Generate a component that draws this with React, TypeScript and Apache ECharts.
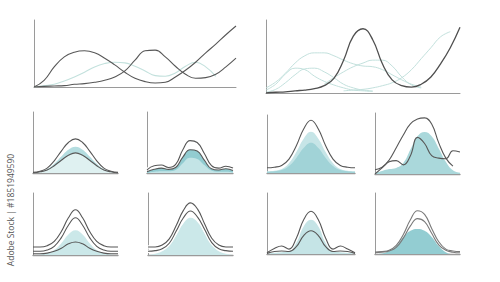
import React, { useEffect, useRef } from "react";
import * as echarts from "echarts";

// categories (hidden ticks)
const xBig = ["0","1","2","3","4","5","6","7","8","9","10","11","12","13","14","15","16","17","18","19","20"];
const xSmall = ["0","1","2","3","4","5","6","7","8","9","10","11","12"];

// Panel A (top-left)
const aDark1 = [0, 10, 30, 45, 52, 54, 51, 43, 33, 22, 13, 8, 6, 7, 15, 25, 37, 51, 64, 78, 91];
const aDark2 = [0, 1, 1.5, 2, 4, 5, 7, 10, 15, 24, 40, 54, 55, 45, 31, 19, 13, 14, 19, 30, 43];
const aLight = [0, 2, 4, 9, 15, 22, 30, 35, 37, 36, 31, 24, 17, 16, 21, 31, 37, 30, 16, null, null];

// Panel B (top-right)
const bDark = [0, 1, 1.5, 3, 4, 6, 10, 20, 45, 78, 88, 73, 40, 18, 10, 8, 12, 22, 40, 62, 90];
const bLight1 = [7, 15, 27, 41, 51, 55, 55, 51, 45, 40, 37, 36, 32, 25, 18, 12, 8, null, null, null, null];
const bLight2 = [4, 12, 26, 34, 32, 23, 16, 11, 7, 4, 3, 2, null, null, null, null, null, null, null, null, null];
const bLight3 = [1, 5, 14, 25, 33, 34, 29, 21, 12, 7, 4, 3, null, null, null, null, null, null, null, null, null];
const bLight4 = [null, null, null, null, null, null, 12, 21, 29, 36, 41, 45, 45, 37, 22, 11, 7, null, null, null, null];
const bLight5 = [null, null, null, null, null, null, null, null, 3, 4, 5, 7, 10, 14, 21, 32, 47, 62, 77, 84, null];

// Panel C
const cOuter = [1, 3, 8, 20, 36, 50, 56, 50, 36, 20, 8, 3, 1];
const cInner = [0, 2, 5, 12, 21, 29, 33, 29, 21, 12, 5, 2, 0];
const cFill = [0, 2, 6, 15, 27, 38, 43, 38, 27, 15, 6, 2, 0];

// Panel D
const dOuter = [5, 12, 13, 9, 14, 38, 53, 50, 32, 12, 8, 11, 8];
const dInner = [2, 6, 8, 6, 9, 26, 38, 36, 21, 7, 5, 7, 4];
const dLight = [0, 2, 3, 3, 5, 16, 25, 23, 13, 4, 2, 2, 1];

// Panel E
const eOuter = [9, 10, 13, 24, 47, 76, 91, 76, 47, 24, 13, 10, 9];
const eLight = [3, 4, 7, 17, 36, 59, 71, 59, 36, 17, 7, 4, 3];
const eDark = [2, 3, 5, 12, 26, 43, 52, 43, 26, 12, 5, 3, 2];

// Panel F
const fOuter = [7, 11, 23, 43, 64, 82, 90, 92, 82, 51, 26, 13, null];
const fJagged = [0, 10, 20, 22, 15, 30, 60, 50, 30, 26, 25, 38, 36];
const fFill = [2, 5, 8, 10, 18, 40, 62, 69, 62, 42, 20, 6, 2];

// Panel G
const gTop = [13, 13, 15, 22, 38, 60, 73, 60, 38, 22, 15, 13, 13];
const gMid = [6, 6, 8, 14, 28, 48, 60, 48, 28, 14, 8, 6, 6];
const gLow = [2, 2, 3, 6, 11, 18, 21, 18, 11, 6, 3, 2, 2];
const gFill = [0, 1, 3, 8, 19, 33, 40, 33, 19, 8, 3, 1, 0];

// Panel H
const hTop = [13, 13, 16, 26, 48, 72, 84, 74, 50, 27, 16, 13, 13];
const hMid = [6, 7, 10, 19, 39, 60, 71, 61, 41, 20, 10, 7, 6];
const hFill = [0, 2, 6, 15, 32, 51, 60, 53, 35, 17, 6, 2, 0];

// Panel I
const iOuter = [2, 9, 13, 8, 26, 56, 70, 56, 26, 8, 13, 8, 2];
const iInner = [1, 4, 5, 4, 12, 30, 38, 30, 12, 4, 5, 4, 1];
const iFill = [0, 2, 3, 4, 18, 45, 56, 45, 18, 4, 3, 2, 0];

// Panel J
const jTop = [3, 4, 6, 14, 32, 56, 71, 65, 42, 20, 8, 5, 4];
const jMid = [2, 3, 5, 11, 26, 46, 58, 53, 34, 15, 6, 3, 2];
const jFill = [0, 1, 5, 13, 28, 38, 41, 38, 28, 13, 3, 0, 0];

const watermark = "Adobe Stock | #1851949590";

// layout (pixels)
const grids = [
  { left: 34, top: 20, width: 202, height: 67 },
  { left: 266, top: 20, width: 194, height: 73 },
  { left: 33, top: 112, width: 85, height: 61 },
  { left: 147, top: 112, width: 86, height: 61 },
  { left: 267, top: 115, width: 88, height: 58 },
  { left: 375, top: 113, width: 85, height: 61 },
  { left: 33, top: 193, width: 85, height: 62 },
  { left: 148, top: 193, width: 85, height: 62 },
  { left: 267, top: 193, width: 88, height: 61 },
  { left: 375, top: 193, width: 85, height: 61 },
];

const DARK = "#575757";
const LIGHT_LINE = "#c3e1dd";
const AXIS = "#9a9a9a";

function line(g: number, data: any[], color = DARK, width = 1.1, z = 5) {
  return {
    type: "line", xAxisIndex: g, yAxisIndex: g, data, smooth: 0.45, symbol: "none",
    lineStyle: { color, width }, z, connectNulls: false,
  };
}
function area(g: number, data: any[], fill: string, z = 2) {
  return {
    type: "line", xAxisIndex: g, yAxisIndex: g, data, smooth: 0.45, symbol: "none",
    lineStyle: { width: 0, color: fill }, areaStyle: { color: fill, opacity: 1 }, z,
  };
}

export default function App() {
  const ref = useRef<HTMLDivElement>(null);
  useEffect(() => {
    if (!ref.current) return;
    const chart = echarts.init(ref.current, null, { renderer: "svg" });
    const xAxis = grids.map((_, i) => ({
      type: "category", gridIndex: i, data: i < 2 ? xBig : xSmall, boundaryGap: false,
      axisLine: { show: true, lineStyle: { color: AXIS, width: i < 2 ? 1 : 1.4 } },
      axisTick: { show: false }, axisLabel: { show: false }, splitLine: { show: false },
    }));
    const yAxis = grids.map((_, i) => ({
      type: "value", gridIndex: i, min: 0, max: 100,
      axisLine: { show: true, lineStyle: { color: AXIS, width: 1 } },
      axisTick: { show: false }, axisLabel: { show: false }, splitLine: { show: false },
    }));
    const series: any[] = [
      // A
      line(0, aLight, LIGHT_LINE, 1.1, 3),
      line(0, aDark1), line(0, aDark2),
      // B
      line(1, bLight1, LIGHT_LINE, 1, 3), line(1, bLight2, LIGHT_LINE, 1, 3),
      line(1, bLight3, LIGHT_LINE, 1, 3), line(1, bLight4, LIGHT_LINE, 1, 3),
      line(1, bLight5, LIGHT_LINE, 1, 3),
      line(1, bDark, "#4f4f4f", 1.3),
      // C
      area(2, cFill, "#b4dde0", 2), area(2, cInner, "#dff1f1", 3),
      line(2, cOuter), line(2, cInner),
      // D
      area(3, dInner, "#92ccd1", 2), area(3, dLight, "#c3e4e6", 3),
      line(3, dOuter, "#ffffff", 3.5, 4), line(3, dOuter), line(3, dInner),
      // E
      area(4, eLight, "#c6e5e7", 2), area(4, eDark, "#a1d3d7", 3),
      line(4, eOuter),
      // F
      area(5, fFill, "#aad8db", 2),
      line(5, fOuter), line(5, fJagged),
      // G
      area(6, gFill, "#cbe8e9", 2),
      line(6, gTop), line(6, gMid), line(6, gLow),
      // H
      area(7, hFill, "#cbe8e9", 2),
      line(7, hTop, "#ffffff", 3.5, 4), line(7, hTop), line(7, hMid, "#ffffff", 3.5, 4), line(7, hMid),
      // I
      area(8, iFill, "#c5e4e6", 2),
      line(8, iOuter), line(8, iInner),
      // J
      area(9, jFill, "#93cdd2", 2),
      line(9, jTop, "#7a7a7a"), line(9, jMid, "#7a7a7a"),
    ];
    chart.setOption({
      animation: false,
      backgroundColor: "#ffffff",
      grid: grids.map((g) => ({ ...g, containLabel: false })),
      xAxis, yAxis, series,
      graphic: [
        {
          type: "text", x: 10, y: 210, rotation: Math.PI / 2,
          style: {
            text: watermark, fill: "#555555", font: '8.5px "Open Sans"',
            align: "center", verticalAlign: "middle",
          },
        },
      ],
    });
    return () => chart.dispose();
  }, []);
  return (
    <div
      ref={ref}
      style={{ position: "absolute", left: 0, top: 0, width: 500, height: 282, background: "#fff" }}
    />
  );
}
